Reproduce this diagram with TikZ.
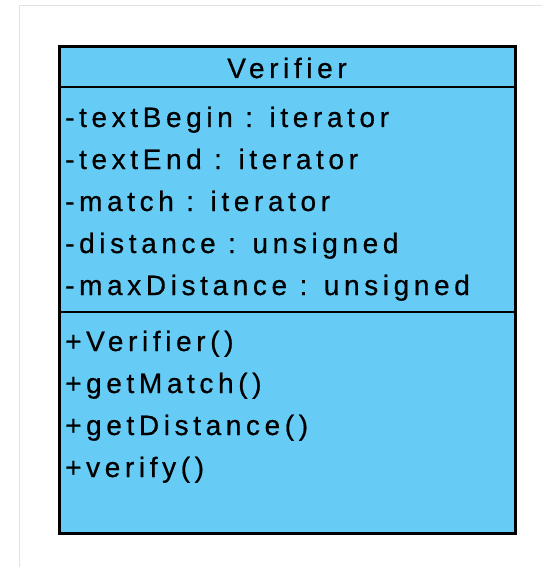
\documentclass[tikz,border=0pt]{standalone}
\usepackage{fontspec}
\setmainfont{Liberation Sans}
\newfontfamily\umlfont[LetterSpace=16.5,FakeBold=0.6]{Liberation Sans}
\usepackage{xcolor}
\usepackage{tikz}
\usetikzlibrary{positioning}
\definecolor{classblue}{HTML}{66CCF5}
\definecolor{framegray}{HTML}{E2E2E2}
\tikzset{classbox/.style={
    draw=black,
    fill=classblue,
    line width=3pt,
}}
\tikzset{member/.style={
    anchor=base west,
    inner sep=0pt,
    font=\umlfont\fontsize{28}{28}\selectfont,
}}
\tikzset{divider/.style={
    draw=black,
    line width=2.6pt,
}}

\begin{document}
\begin{tikzpicture}[x=1pt,y=-1pt]
    \useasboundingbox (0,0) rectangle (542,567);
    \draw[framegray, line width=1pt] (19,567) -- (19,6) -- (542,6);
    \fill[black!25] (60,47) rectangle (516,534);
    \node[classbox, minimum width=456pt, minimum height=487pt, anchor=north west] (class) at (58,45) {};
    \coordinate (divA) at (58,87);
    \coordinate (divB) at (58,312);
    \draw[divider] (divA) -- (divA -| class.east);
    \draw[divider] (divB) -- (divB -| class.east);
    \node[member, anchor=base] (name) at (287,78) {Verifier};

    \node[member] (textBegin) at (65,127) {-textBegin : iterator};
    \node[member] (textEnd) at (65,169) {-textEnd : iterator};
    \node[member] (match) at (65,211) {-match : iterator};
    \node[member] (distance) at (65,253) {-distance : unsigned};
    \node[member] (maxDistance) at (65,295) {-maxDistance : unsigned};

    \node[member] (ctor) at (65,351) {+Verifier()};
    \node[member] (getMatch) at (65,393) {+getMatch()};
    \node[member] (getDistance) at (65,435) {+getDistance()};
    \node[member] (verify) at (65,477) {+verify()};
\end{tikzpicture}
\end{document}
